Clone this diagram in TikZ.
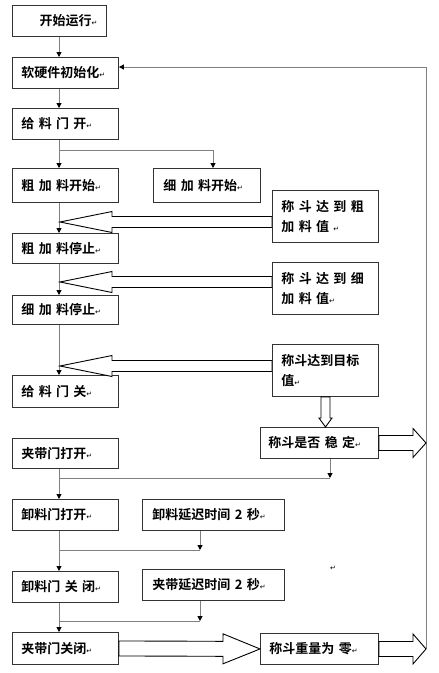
\documentclass[tikz,border=0pt]{standalone}
\usepackage{fontspec}
\usetikzlibrary{arrows.meta,calc}
\newfontfamily\cjkfont{Noto Sans CJK SC}[BoldFont={Noto Sans CJK SC Bold}]
\newfontfamily\symfont{DejaVu Sans}
\newcommand{\retmark}{{\mdseries\symfont\fontsize{7}{7}\selectfont ↵}}
\newcommand{\fatarrow}[5]{%
 \coordinate (fa-a) at #1;
 \coordinate (fa-b) at #2;
 \coordinate (fa-h) at ($(fa-b)!#5!(fa-a)$);
 \draw[hollow] ($(fa-a)!#3!90:(fa-b)$) -- ($(fa-h)!#3!90:(fa-b)$) -- ($(fa-h)!#4!90:(fa-b)$)
 -- (fa-b) -- ($(fa-h)!#4!-90:(fa-b)$) -- ($(fa-h)!#3!-90:(fa-b)$) -- ($(fa-a)!#3!-90:(fa-b)$) -- cycle;}

\begin{document}
\begin{tikzpicture}[x=1pt,y=-1pt,
 box/.style={draw=black!80,line width=0.9pt,anchor=north west,inner xsep=9pt,inner ysep=0pt,
 align=left,font=\cjkfont\bfseries\fontsize{13}{20}\selectfont},
 link/.style={draw=black!50,line width=1pt},
 tip/.style={link,-{Triangle[length=5pt,width=5pt,black]}},
 hollow/.style={draw=black,fill=white,line width=0.9pt,line join=miter}]
 \useasboundingbox (0,0) rectangle (439,673);
 \node[box,text width=76pt,minimum height=31pt,align=right] (start) at (12,5) {开始运行\retmark};
 \node[box,text width=88pt,minimum height=31pt] (init) at (12,57) {软硬件初始化\retmark};
 \node[box,text width=88pt,minimum height=31pt] (open) at (12,108) {给 料 门 开\retmark};
 \node[box,text width=88pt,minimum height=34pt] (coarse) at (12,168) {粗 加 料开始\retmark};
 \node[box,text width=87pt,minimum height=34pt,inner xsep=10pt] (fine) at (153,168) {细 加 料开始\retmark};
 \node[box,text width=88pt,minimum height=52pt] (reachc) at (272,190) {称 斗 达 到 粗\\加 料 值 \retmark};
 \node[box,text width=88pt,minimum height=30pt] (cstop) at (12,233) {粗 加 料停止\retmark};
 \node[box,text width=88pt,minimum height=52pt] (reachf) at (272,262) {称 斗 达 到 细\\加 料 值\retmark};
 \node[box,text width=88pt,minimum height=29pt] (fstop) at (12,295) {细 加 料停止\retmark};
 \node[box,text width=88pt,minimum height=52pt] (reacht) at (272,344) {称斗达到目标\\值\retmark};
 \node[box,text width=88pt,minimum height=32pt] (close) at (12,375) {给 料 门 关\retmark};
 \node[box,text width=102pt,minimum height=31pt,inner xsep=8pt] (stable) at (260,427) {称斗是否 稳 定\retmark};
 \node[box,text width=88pt,minimum height=30pt] (beltopen) at (12,438) {夹带门打开\retmark};
 \node[box,text width=88pt,minimum height=31pt] (dopen) at (12,499) {卸料门打开\retmark};
 \node[box,text width=122pt,minimum height=31pt,inner xsep=10pt] (ddelay) at (142,499) {卸料延迟时间 2 秒\retmark};
 \node[box,text width=88pt,minimum height=31pt] (dclose) at (12,571) {卸料门 关 闭\retmark};
 \node[box,text width=122pt,minimum height=31pt,inner xsep=10pt] (bdelay) at (142,569) {夹带延迟时间 2 秒\retmark};
 \node[box,text width=88pt,minimum height=32pt] (bclose) at (12,632) {夹带门关闭\retmark};
 \node[box,text width=100pt,minimum height=31pt] (zero) at (260,633) {称斗重量为 零\retmark};
 \node (stray) at (333,568) {\retmark};
 \coordinate (col) at (59,0);
 \coordinate (fx) at (213,150);
 \coordinate (sx) at (330,478);
 \coordinate (dx) at (200,550);
 \coordinate (bx) at (200,621);
 \coordinate (fb) at (426,67);
 \draw[tip] (col|-start.south) -- (col|-init.north);
 \draw[tip] (col|-init.south) -- (col|-open.north);
 \draw[tip] (col|-open.south) -- (col|-coarse.north);
 \draw[tip] (col|-fx) -- (fx) -- (fx|-fine.north);
 \draw[tip] (col|-coarse.south) -- (col|-cstop.north);
 \draw[tip] (col|-cstop.south) -- (col|-fstop.north);
 \draw[tip] (col|-fstop.south) -- (col|-close.north);
 \draw[tip] (col|-beltopen.south) -- (col|-dopen.north);
 \draw[link] (col|-sx) -- (sx);
 \draw[tip] (sx|-stable.south) -- (sx);
 \draw[tip] (col|-dopen.south) -- (col|-dclose.north);
 \draw[link] (col|-dx) -- (dx);
 \draw[tip] (dx|-ddelay.south) -- (dx);
 \draw[tip] (col|-dclose.south) -- (col|-bclose.north);
 \draw[link] (col|-bx) -- (bx);
 \draw[tip] (bx|-bdelay.south) -- (bx);
 \draw[tip] (fb|-zero.east) -- (fb) -- (fb-|init.east);
 \coordinate (t1) at (60,222);
 \coordinate (t2) at (60,282);
 \coordinate (t3) at (60,366);
 \coordinate (t4) at (325.5,0);
 \fatarrow{(reachc.west|-t1)}{(t1)}{5.5pt}{10.5pt}{52pt}
 \fatarrow{(reachf.west|-t2)}{(t2)}{5.5pt}{10.5pt}{52pt}
 \fatarrow{(reacht.west|-t3)}{(t3)}{5.5pt}{10.5pt}{52pt}
 \fatarrow{(t4|-reacht.south)}{(t4|-stable.north)}{4.5pt}{6.5pt}{9pt}
 \fatarrow{(stable.east)}{(fb|-stable.east)}{7.5pt}{14.5pt}{13pt}
 \fatarrow{(bclose.east)}{(zero.west)}{7.5pt}{15pt}{37pt}
 \fatarrow{(zero.east)}{(fb|-zero.east)}{7.5pt}{15pt}{13pt}
\end{tikzpicture}
\end{document}
